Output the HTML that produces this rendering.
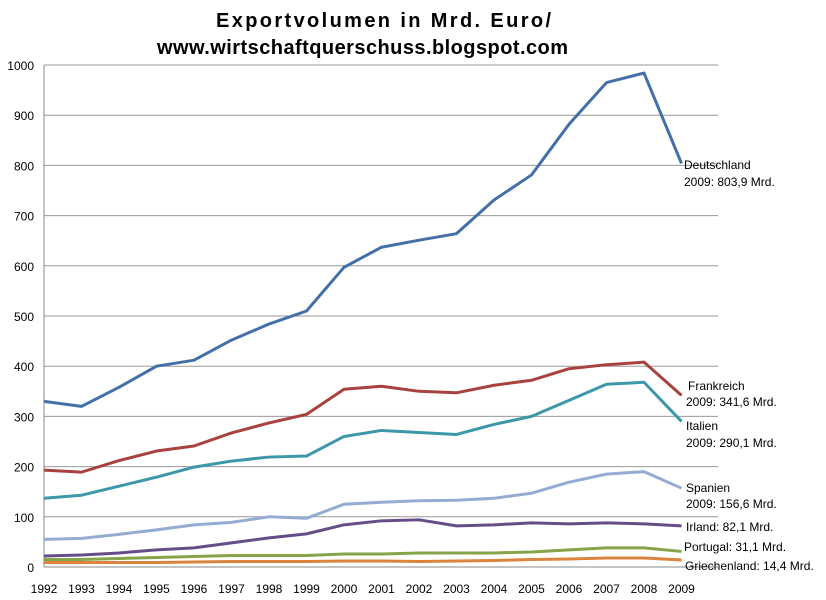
<!DOCTYPE html>
<html><head><meta charset="utf-8"><style>
body{margin:0;background:#fff;}
svg{display:block;font-family:"Liberation Sans",Arial,sans-serif;}
</style></head><body>
<svg id="c" width="826" height="600">
<text x="216" y="27" font-size="20" font-weight="bold" textLength="335" lengthAdjust="spacing">Exportvolumen in Mrd. Euro/</text>
<text x="157" y="54" font-size="20" font-weight="bold" textLength="411" lengthAdjust="spacing">www.wirtschaftquerschuss.blogspot.com</text>
<g id="grid"></g><g id="lines"></g><g id="labels" font-size="12"></g>
</svg>
<script>
const years=[1992,1993,1994,1995,1996,1997,1998,1999,2000,2001,2002,2003,2004,2005,2006,2007,2008,2009];
const yTicks=[0,100,200,300,400,500,600,700,800,900,1000];
const deutschland=[330,320,358,400,412,452,484,510,597,637,651,664,731,781,882,965,984,804];
const frankreich=[193,189,212,231,241,267,287,304,354,360,350,347,362,372,395,403,408,342];
const italien=[137,143,161,179,199,211,219,221,260,272,268,264,284,300,332,364,368,290];
const spanien=[55,57,65,74,84,89,100,97,125,129,132,133,137,147,169,185,190,157];
const irland=[22,24,28,34,38,48,58,66,84,92,94,82,84,88,86,88,86,82];
const portugal=[15,15,17,19,21,23,23,23,26,26,28,28,28,30,34,38,38,31];
const griechenland=[9,9,9,9,10,11,11,11,12,12,11,12,13,15,16,18,18,14];
const NS="http://www.w3.org/2000/svg";
const X=i=>44+i*37.5, Y=v=>567-v*0.502;
function mk(t,a,p){const e=document.createElementNS(NS,t);for(const k in a)e.setAttribute(k,a[k]);p.appendChild(e);return e;}
const grid=document.getElementById('grid');
yTicks.forEach(v=>{
 const l=mk('line',{x1:44,x2:718,y1:Y(v),y2:Y(v),stroke:v===0?'#888':'#999','stroke-width':1},grid);
 
 
 const t=mk('text',{x:34,y:Y(v)+5,'text-anchor':'end','font-size':12},grid);t.textContent=v;
 
 
});
const ax=mk('line',{x1:44,x2:44,y1:Y(0),y2:Y(1000),stroke:'#888'},grid);


years.forEach((y,i)=>{const t=mk('text',{x:X(i),y:593,'text-anchor':'middle','font-size':12},grid);t.textContent=y;
 
 });
const series=[[deutschland,'#4470A8','deutschland'],[frankreich,'#A8423F','frankreich'],[italien,'#3C98A8','italien'],[spanien,'#94ABD2','spanien'],[irland,'#664D87','irland'],[portugal,'#86A44A','portugal'],[griechenland,'#DB843D','griechenland']];
const lg=document.getElementById('lines');
series.forEach(([d,c,n])=>{
 const p=mk('polyline',{points:d.map((v,i)=>X(i)+','+Y(v)).join(' '),fill:'none',stroke:c,'stroke-width':3,'stroke-linejoin':'round'},lg);
 
 
});
const lab=document.getElementById('labels');
[[684,169,'Deutschland'],[684,186,'2009: 803,9 Mrd.'],[688,390,'Frankreich'],[686,406,'2009: 341,6 Mrd.'],[686,430,'Italien'],[686,447,'2009: 290,1 Mrd.'],[686,492,'Spanien'],[686,508,'2009: 156,6 Mrd.'],[686,531,'Irland: 82,1 Mrd.'],[684,551,'Portugal: 31,1 Mrd.'],[685,570,'Griechenland: 14,4 Mrd.']].forEach(([x,y,s])=>{
 const t=mk('text',{x:x,y:y},lab);t.textContent=s;
 
 
});
</script>
</body></html>
